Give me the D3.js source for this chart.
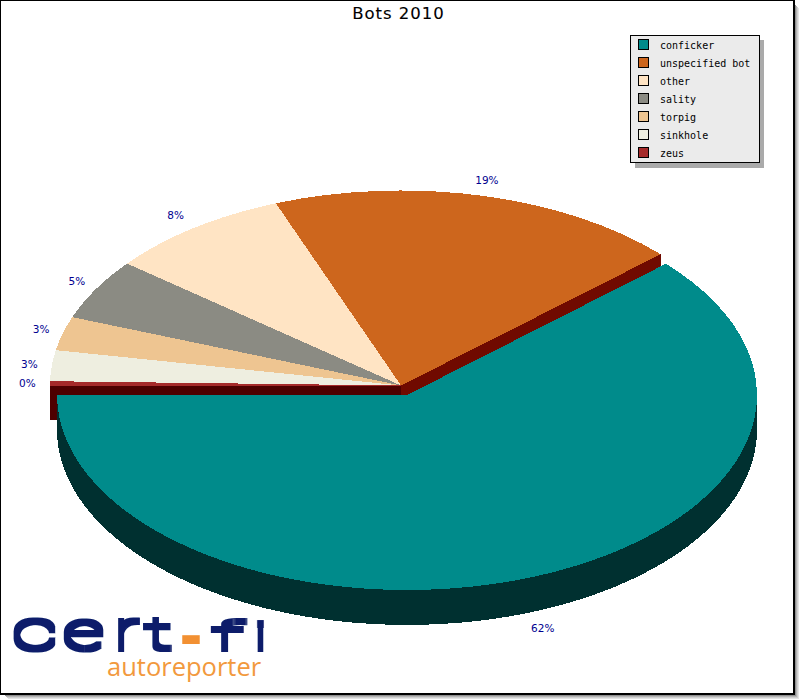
<!DOCTYPE html>
<html><head><meta charset="utf-8">
<script src="https://cdn.jsdelivr.net/npm/d3@7/dist/d3.min.js"></script>
<style>html,body{margin:0;padding:0;background:#fff}svg{display:block}</style>
</head><body><div id="c"></div>
<script>
const categories = ["conficker","unspecified bot","other","sality","torpig","sinkhole","zeus"];
const shares = [61.75,19.05,8.45,5.05,2.8,2.55,0.35];
const colors = ["#008B8B","#CD661D","#FFE4C4","#8B8B83","#EEC591","#EEEEE0","#A52A2A"];
const sideColors = ["#003030","#700A00","#700A00","#700A00","#700A00","#700A00","#4D0000"];
const title = "Bots 2010";
const logoLetters = ["c","e","r","t","-","f","i"];
const logoWord = "autoreporter";

const W=800,H=700, rx=351, ry=195, cx=401, cy=385, ex=6, ey=10, depth=35;
const svg=d3.select("#c").append("svg").attr("width",W).attr("height",H).attr("font-family","DejaVu Sans");

// frame shadow
[["#e4e4e4",4],["#cfcfcf",3],["#b4b4b4",2],["#8f8f8f",1]].forEach(([c,o])=>{
  svg.append("rect").attr("x",4+o).attr("y",4+o).attr("width",791).attr("height",691).attr("fill",c);
});
svg.append("rect").attr("x",0.5).attr("y",0.5).attr("width",794).attr("height",694).attr("fill","#fff").attr("stroke","#000").attr("stroke-width",1);
svg.append("path").attr("d","M794,1V694.5M1,694H795").attr("stroke","#000").attr("stroke-width",2).attr("fill","none");

// pie layout: counter-clockwise from the west point
const pie=d3.pie().sort(null).value(d=>d).startAngle(-Math.PI/2).endAngle(-Math.PI/2-2*Math.PI);
const arcs=pie(shares);
const arc=d3.arc().innerRadius(0).outerRadius(rx);
const ptX=a=>Math.sin(a)*rx, ptY=a=>-Math.cos(a)*ry;
const P=svg.append("g").attr("shape-rendering","crispEdges");

// radial cut faces of the back slices
const polyLine=d3.line();
[arcs[1],arcs[6]].forEach(s=>{
  const a = s.index===1 ? s.startAngle : s.endAngle;
  const x=cx+ptX(a), y=cy+ptY(a);
  P.append("path").attr("fill",sideColors[s.index])
   .attr("d",polyLine([[cx,cy],[x,y],[x,y+depth],[cx,cy+depth]])+"Z");
});
// tops of the back slices
arcs.slice(1).forEach(s=>{
  P.append("path").attr("d",arc(s)).attr("fill",colors[s.index])
   .attr("transform",`translate(${cx},${cy+0.5}) scale(1,${ry/rx})`);
});
// exploded slice: wall, then top
const ex0=cx+ex-(rx-1), ex1=cx+ex+(rx-1), ey0=cy+ey;
P.append("path").attr("fill",sideColors[0])
 .attr("d",`M${ex0},${ey0}A${rx-1},${ry} 0 0 0 ${ex1},${ey0}L${ex1},${ey0+depth}A${rx-1},${ry} 0 0 1 ${ex0},${ey0+depth}Z`);
P.append("path").attr("d",d3.arc().innerRadius(0).outerRadius(rx-1)(arcs[0])).attr("fill",colors[0])
 .attr("transform",`translate(${cx+ex},${ey0}) scale(1,${ry/(rx-1)})`);

// percent labels
const k=1.08;
arcs.forEach(s=>{
  const m=(s.startAngle+s.endAngle)/2;
  const ox = s.index===0?ex+1:0, oy = s.index===0?ey+depth+1.5:0;
  const sx=Math.sin(m);
  svg.append("text").attr("x",cx+ox+sx*rx*k+(sx<-0.85?5.5:-2)).attr("y",cy+oy-Math.cos(m)*ry*k+4)
   .attr("text-anchor","middle").attr("font-size",10.5).attr("fill","#000090")
   .text(Math.round(s.data)+"%");
});

// title
svg.append("text").attr("x",398.5).attr("y",19).attr("text-anchor","middle").attr("font-size",16.5).attr("letter-spacing",1)
  .attr("stroke","#000").attr("stroke-width",0.1).attr("fill","#000").text(title);

// legend
const L=svg.append("g");
L.append("rect").attr("x",635).attr("y",40).attr("width",129).attr("height",128).attr("fill","#aaa");
L.append("rect").attr("x",630.5).attr("y",35.5).attr("width",129).attr("height",127).attr("fill","#ebebeb").attr("stroke","#000");
const ly=d3.scalePoint().domain(categories).range([45,153]);
categories.forEach((c,i)=>{
  L.append("rect").attr("x",638.5).attr("y",ly(c)-5.5).attr("width",10).attr("height",10).attr("fill",colors[i]).attr("stroke","#000");
  L.append("text").attr("x",660).attr("y",ly(c)+3.5).attr("font-family","DejaVu Sans Mono").attr("font-size",10).attr("fill","#000").text(c);
});

// logo: thin letters, stretched to the wide letterforms, then thickened evenly
const f=svg.append("defs").append("filter").attr("id","thick").attr("filterUnits","userSpaceOnUse")
  .attr("x",0).attr("y",600).attr("width",300).attr("height",70);
f.append("feMorphology").attr("operator","dilate").attr("radius","1.5 3").attr("result","d");
f.append("feGaussianBlur").attr("in","d").attr("stdDeviation",0.6);
const logoCx=[34.5,83.5,126.5,158.5,191,227,260.5], logoSx=[2.3,2.1,1.9,2.4,1.3,2.8,1.5], logoSy=[1.35,1.3,1.35,1.08,0.75,0.92,0.92];
const logo=svg.append("g").attr("filter","url(#thick)");
logoLetters.forEach((ch,i)=>{
  const col = ch==="-" ? "#F29030" : "#0A1E6A";
  logo.append("text").attr("transform",`translate(${logoCx[i]},649) scale(${logoSx[i]},${logoSy[i]})`)
    .attr("text-anchor","middle").attr("font-family","Roboto").attr("font-weight",ch==="-"?500:100).attr("font-size",40)
    .attr("fill",col).text(ch);
});
svg.append("text").attr("x",107).attr("y",676).attr("font-family","Open Sans").attr("font-size",25.5).attr("fill","#F2993D").text(logoWord);
</script></body></html>
